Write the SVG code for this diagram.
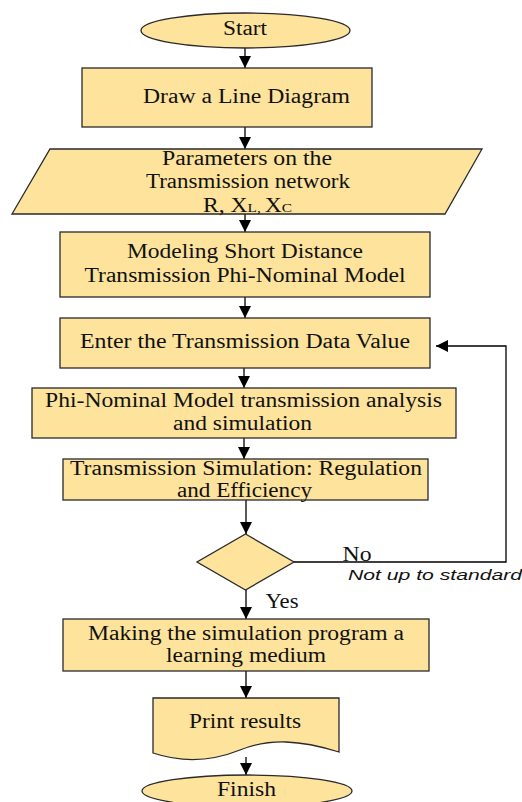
<svg xmlns="http://www.w3.org/2000/svg" width="522" height="802" viewBox="0 0 522 802">
<defs>
<style>
.n{fill:#fde39b;stroke:#2a2a2a;stroke-width:1.3}
.t{font-family:"Liberation Serif","Times New Roman",serif;font-size:20px;fill:#111;text-anchor:middle}
.c{stroke:#000;stroke-width:1.3;fill:none}
.i{font-family:"Liberation Sans",Arial,sans-serif;font-style:italic;font-size:15px;fill:#111}
.s{font-size:13px}
</style>
<marker id="ah" markerUnits="userSpaceOnUse" markerWidth="12" markerHeight="14" refX="12" refY="6" orient="auto">
<path d="M0,0 L12,6 L0,12 Z" fill="#000"/>
</marker>
</defs>
<g id="connectors">
<line class="c" x1="245" y1="48" x2="245" y2="68" marker-end="url(#ah)"/>
<line class="c" x1="245" y1="127" x2="245" y2="149" marker-end="url(#ah)"/>
<line class="c" x1="245" y1="214" x2="245" y2="232" marker-end="url(#ah)"/>
<line class="c" x1="245" y1="297" x2="245" y2="318" marker-end="url(#ah)"/>
<line class="c" x1="244" y1="368" x2="244" y2="388" marker-end="url(#ah)"/>
<line class="c" x1="244" y1="438" x2="244" y2="459" marker-end="url(#ah)"/>
<line class="c" x1="246" y1="500" x2="246" y2="534" marker-end="url(#ah)"/>
<polyline class="c" points="294,562 506,562 506,346 436,346" marker-end="url(#ah)"/>
<line class="c" x1="246" y1="590" x2="246" y2="619" marker-end="url(#ah)"/>
<line class="c" x1="246" y1="671" x2="246" y2="698" marker-end="url(#ah)"/>
<line class="c" x1="246" y1="757" x2="246" y2="775" marker-end="url(#ah)"/>
<text class="t" x="357" y="561" textLength="29" lengthAdjust="spacingAndGlyphs">No</text>
<text class="i" x="348" y="580" textLength="174" lengthAdjust="spacingAndGlyphs">Not up to standard</text>
<text class="t" x="282" y="608" textLength="33" lengthAdjust="spacingAndGlyphs">Yes</text>
</g>
<g id="start">
<ellipse class="n" cx="245.5" cy="30.5" rx="104.5" ry="17.5"/>
<text class="t" x="245" y="35" textLength="44" lengthAdjust="spacingAndGlyphs">Start</text>
</g>
<g id="draw">
<rect class="n" x="82" y="68" width="290" height="59"/>
<text class="t" x="246.5" y="103" textLength="207" lengthAdjust="spacingAndGlyphs">Draw a Line Diagram</text>
</g>
<g id="params">
<polygon class="n" points="50,149 482,149 445,214 12,214"/>
<text class="t" x="247" y="165" textLength="170" lengthAdjust="spacingAndGlyphs">Parameters on the</text>
<text class="t" x="248" y="188" textLength="204" lengthAdjust="spacingAndGlyphs">Transmission network</text>
<text class="t" x="247.5" y="212" textLength="89" lengthAdjust="spacingAndGlyphs">R, X<tspan class="s">L, </tspan>X<tspan class="s">C</tspan></text>
</g>
<g id="modeling">
<rect class="n" x="60" y="232" width="370" height="65"/>
<text class="t" x="245" y="258" textLength="236" lengthAdjust="spacingAndGlyphs">Modeling Short Distance</text>
<text class="t" x="245" y="282" textLength="321" lengthAdjust="spacingAndGlyphs">Transmission Phi-Nominal Model</text>
</g>
<g id="enter">
<rect class="n" x="60" y="318" width="370" height="50"/>
<text class="t" x="245" y="348" textLength="330" lengthAdjust="spacingAndGlyphs">Enter the Transmission Data Value</text>
</g>
<g id="analysis">
<rect class="n" x="32" y="388" width="424" height="50"/>
<text class="t" x="243.5" y="407" textLength="397" lengthAdjust="spacingAndGlyphs">Phi-Nominal Model transmission analysis</text>
<text class="t" x="242.5" y="430" textLength="139" lengthAdjust="spacingAndGlyphs">and simulation</text>
</g>
<g id="simulation">
<rect class="n" x="63" y="459" width="365" height="41"/>
<text class="t" x="246" y="475" textLength="352" lengthAdjust="spacingAndGlyphs">Transmission Simulation: Regulation</text>
<text class="t" x="244.5" y="497" textLength="135" lengthAdjust="spacingAndGlyphs">and Efficiency</text>
</g>
<g id="decision">
<polygon class="n" points="245.5,534 294,562 245.5,590 197,562"/>
</g>
<g id="making">
<rect class="n" x="63" y="619" width="366" height="52"/>
<text class="t" x="246" y="640" textLength="316" lengthAdjust="spacingAndGlyphs">Making the simulation program a</text>
<text class="t" x="246" y="662" textLength="160" lengthAdjust="spacingAndGlyphs">learning medium</text>
</g>
<g id="print">
<path class="n" d="M153,698 L339,698 L339,752 C300,740 270,738 240,750 C210,762 180,762 153,753 Z"/>
<text class="t" x="245" y="728" textLength="112" lengthAdjust="spacingAndGlyphs">Print results</text>
</g>
<g id="finish">
<ellipse class="n" cx="247" cy="791" rx="105" ry="16"/>
<text class="t" x="246.5" y="796" textLength="59" lengthAdjust="spacingAndGlyphs">Finish</text>
</g>
</svg>
